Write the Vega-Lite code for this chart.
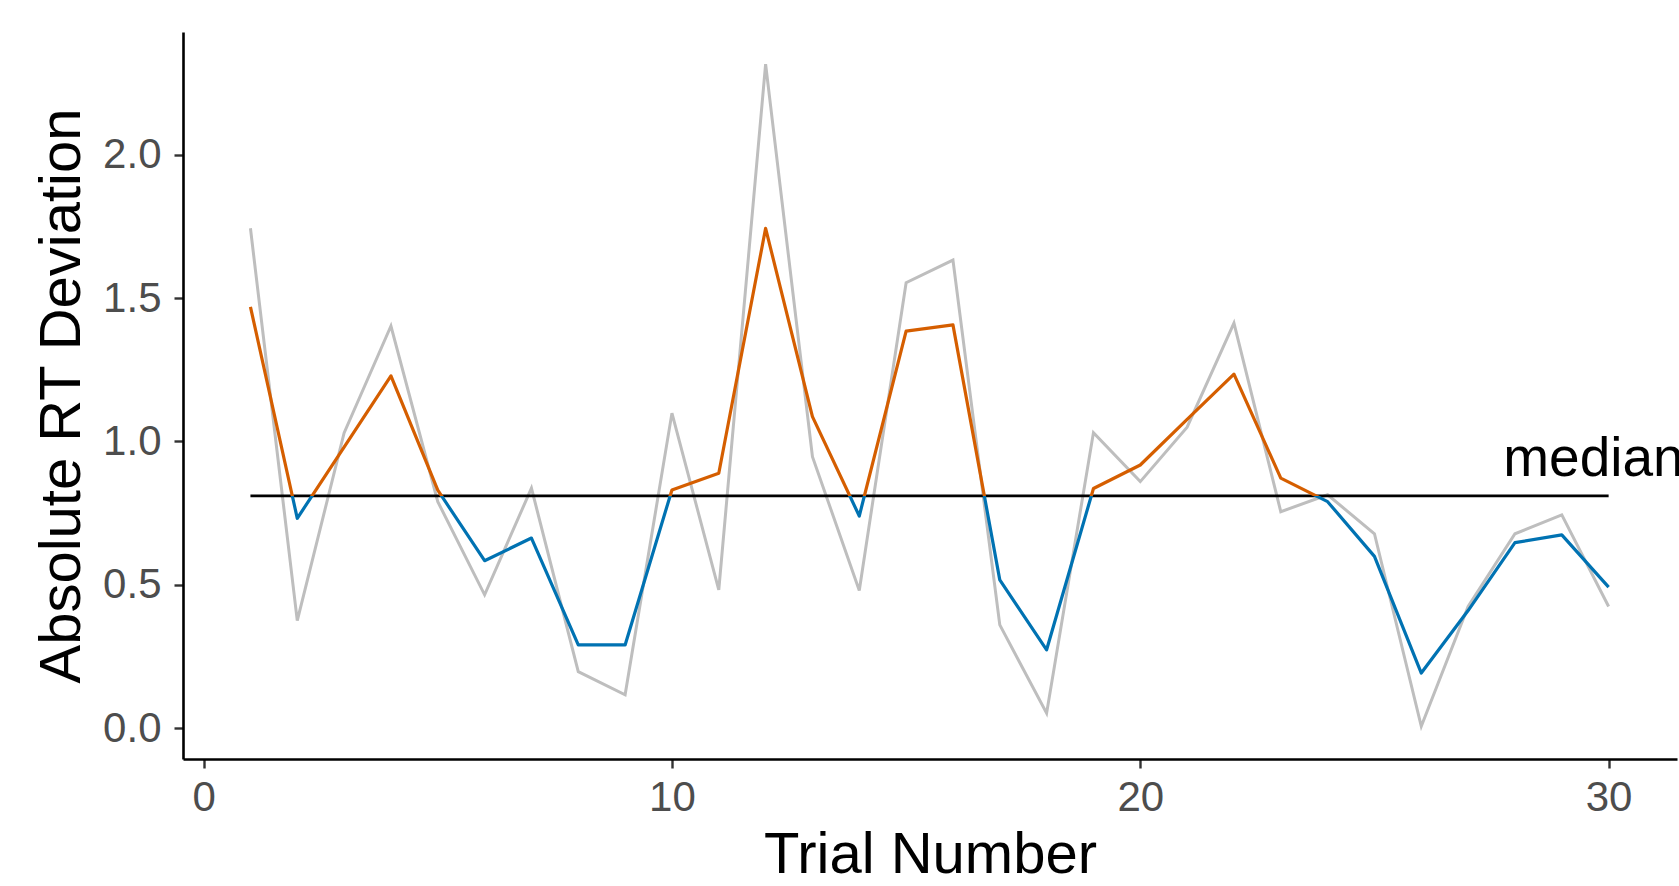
{
  "$schema": "https://vega.github.io/schema/vega-lite/v6.json",
  "width": 1494,
  "height": 727,
  "autosize": {"type": "none"},
  "padding": {"left": 183, "top": 32, "right": 2, "bottom": 127},
  "background": "white",
  "config": {
    "view": {"stroke": null},
    "font": "Liberation Sans",
    "axis": {
      "grid": false,
      "domainColor": "black",
      "domainWidth": 2.6,
      "tickColor": "#333333",
      "tickWidth": 2.4,
      "tickSize": 9,
      "labelFont": "Liberation Sans",
      "labelFontSize": 42,
      "labelColor": "#4D4D4D",
      "titleFont": "Liberation Sans",
      "titleFontSize": 58,
      "titleFontWeight": "normal",
      "titleColor": "black"
    }
  },
  "datasets": {
    "trials": [
      {"trial": 1, "raw": 1.744, "smooth": 1.470},
      {"trial": 2, "raw": 0.375, "smooth": 0.732},
      {"trial": 3, "raw": 1.03, "smooth": 0.98},
      {"trial": 4, "raw": 1.403, "smooth": 1.229},
      {"trial": 5, "raw": 0.79, "smooth": 0.83},
      {"trial": 6, "raw": 0.465, "smooth": 0.584},
      {"trial": 7, "raw": 0.837, "smooth": 0.663},
      {"trial": 8, "raw": 0.197, "smooth": 0.29},
      {"trial": 9, "raw": 0.116, "smooth": 0.29},
      {"trial": 10, "raw": 1.099, "smooth": 0.831},
      {"trial": 11, "raw": 0.482, "smooth": 0.889},
      {"trial": 12, "raw": 2.317, "smooth": 1.744},
      {"trial": 13, "raw": 0.947, "smooth": 1.087},
      {"trial": 14, "raw": 0.48, "smooth": 0.74},
      {"trial": 15, "raw": 1.554, "smooth": 1.385},
      {"trial": 16, "raw": 1.633, "smooth": 1.407},
      {"trial": 17, "raw": 0.36, "smooth": 0.517},
      {"trial": 18, "raw": 0.052, "smooth": 0.273},
      {"trial": 19, "raw": 1.031, "smooth": 0.836},
      {"trial": 20, "raw": 0.86, "smooth": 0.918},
      {"trial": 21, "raw": 1.05, "smooth": 1.077},
      {"trial": 22, "raw": 1.413, "smooth": 1.235},
      {"trial": 23, "raw": 0.755, "smooth": 0.872},
      {"trial": 24, "raw": 0.814, "smooth": 0.79},
      {"trial": 25, "raw": 0.678, "smooth": 0.599},
      {"trial": 26, "raw": 0.006, "smooth": 0.192},
      {"trial": 27, "raw": 0.424, "smooth": 0.41},
      {"trial": 28, "raw": 0.678, "smooth": 0.647},
      {"trial": 29, "raw": 0.744, "smooth": 0.674},
      {"trial": 30, "raw": 0.424, "smooth": 0.492}
    ],
    "note": [
      {"trial": 27.75, "value": 0.878, "label": "median"}
    ]
  },
  "data": {"name": "trials"},
  "layer": [
    {
      "mark": {"type": "line", "color": "#BEBEBE", "strokeWidth": 3, "strokeJoin": "miter"},
      "encoding": {
        "x": {
          "field": "trial",
          "type": "quantitative",
          "scale": {"domain": [-0.44, 31.46], "nice": false, "zero": false},
          "axis": {"values": [0, 10, 20, 30], "title": "Trial Number", "labelPadding": 9, "titlePadding": 8}
        },
        "y": {
          "field": "raw",
          "type": "quantitative",
          "scale": {"domain": [-0.108, 2.429], "nice": false, "zero": false},
          "axis": {"values": [0, 0.5, 1, 1.5, 2], "format": ".1f", "title": "Absolute RT Deviation", "labelPadding": 13, "titlePadding": 11}
        }
      }
    },
    {
      "transform": [
        {"aggregate": [
          {"op": "median", "field": "smooth", "as": "med"},
          {"op": "min", "field": "trial", "as": "t0"},
          {"op": "max", "field": "trial", "as": "t1"}
        ]}
      ],
      "mark": {"type": "rule", "color": "black", "strokeWidth": 2.8},
      "encoding": {
        "x": {"field": "t0", "type": "quantitative"},
        "x2": {"field": "t1"},
        "y": {"field": "med", "type": "quantitative"}
      }
    },
    {
      "mark": {
        "type": "line",
        "strokeWidth": 3.2,
        "strokeJoin": "round",
        "color": {
          "gradient": "linear",
          "x1": 0, "y1": 0, "x2": 0, "y2": 1,
          "stops": [
            {"offset": 0, "color": "#D55E00"},
            {"offset": 0.6018, "color": "#D55E00"},
            {"offset": 0.6018, "color": "#0072B2"},
            {"offset": 1, "color": "#0072B2"}
          ]
        }
      },
      "encoding": {
        "x": {"field": "trial", "type": "quantitative"},
        "y": {"field": "smooth", "type": "quantitative"}
      }
    },
    {
      "data": {"name": "note"},
      "mark": {"type": "text", "align": "left", "baseline": "alphabetic", "fontSize": 55, "font": "Liberation Sans", "color": "black"},
      "encoding": {
        "x": {"field": "trial", "type": "quantitative"},
        "y": {"field": "value", "type": "quantitative"},
        "text": {"field": "label"}
      }
    }
  ]
}
